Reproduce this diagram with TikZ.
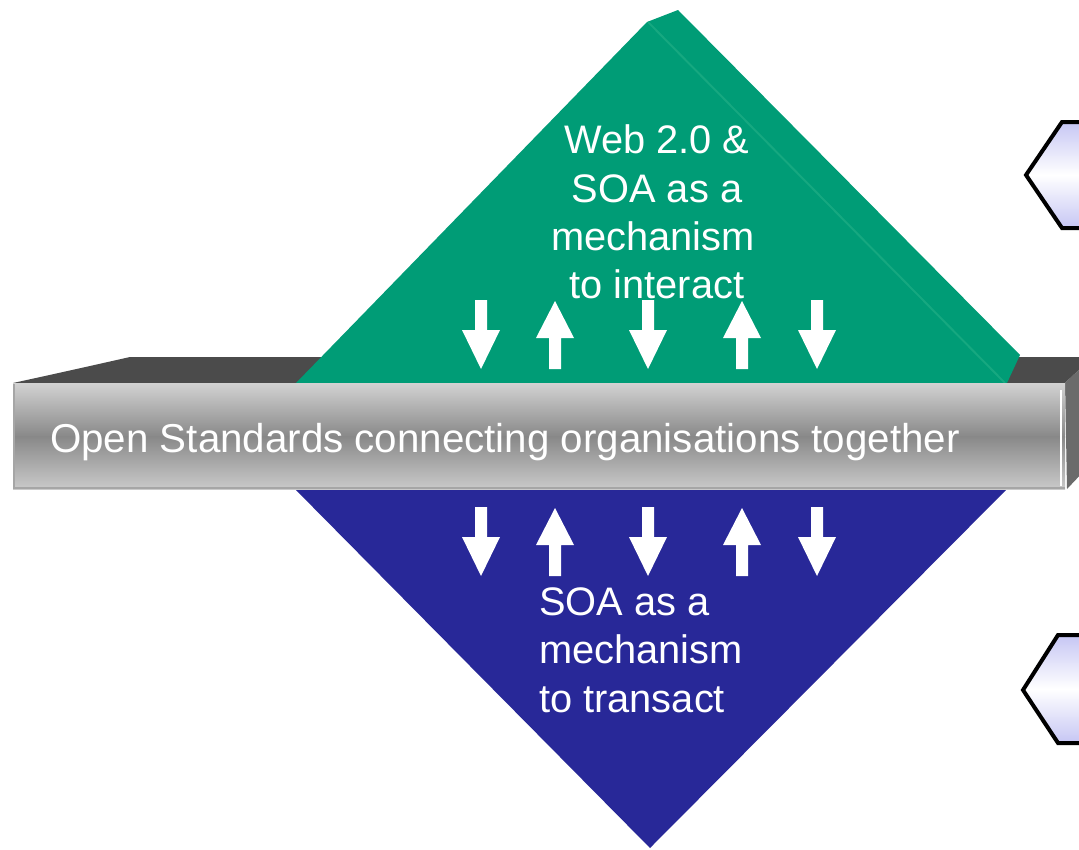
\documentclass[tikz,border=0pt]{standalone}
\usepackage{fontspec}
\setmainfont{Liberation Sans}
\definecolor{dgreen}{HTML}{009C76}
\definecolor{ridge}{HTML}{16A880}
\definecolor{dblue}{HTML}{282898}
\definecolor{topface}{HTML}{4B4B4B}
\definecolor{sideface}{HTML}{6B6B6B}
\definecolor{barlight}{HTML}{D2D2D2}
\definecolor{bardark}{HTML}{888888}
\definecolor{lav}{HTML}{C6C6F4}
\begin{document}
\begin{tikzpicture}[x=1pt,y=-1pt,
  dtxt/.style={text=white, inner sep=0pt, font=\fontsize{39.8}{48}\selectfont},
  btxt/.style={text=white, inner sep=0pt, font=\fontsize{40.3}{48}\selectfont},
  hexbox/.style={draw=black, line width=4pt, line join=miter, top color=lav, bottom color=lav, middle color=white},
  downarrow/.pic={\fill[white] (-6,0) -- (6,0) -- (6,30) -- (19,30) -- (0,69) -- (-19,30) -- (-6,30) -- cycle;},
  uparrow/.pic={\fill[white] (0,0) -- (19,37) -- (6,37) -- (6,68) -- (-6,68) -- (-6,37) -- (-19,37) -- cycle;}]
\useasboundingbox (0,0) rectangle (1079,849);
\clip (0,0) rectangle (1079,849);
% bar top and side faces
\fill[topface] (13,383) -- (45,376) -- (90,366) -- (130,357) -- (1085,357) -- (1085,364) -- (1065,383) -- cycle;
\fill[sideface] (1065,383) -- (1085,364) -- (1085,470) -- (1067,489) -- cycle;
% blue lower half
\fill[dblue] (291,485) -- (650,848) -- (1011,485) -- cycle;
% green upper half
\fill[dgreen] (296,383) -- (647,22) -- (678,10) -- (1020,355) -- (1007,383) -- (1007,400) -- (296,400) -- cycle;
\draw[ridge, line width=2pt] (648,22) -- (1005,383);
% bar front face
\fill[top color=barlight, bottom color=bardark] (13,383) rectangle (1065,437);
\fill[top color=bardark, bottom color=barlight!96!black] (13,436) rectangle (1065,489);
\draw[gray!70, line width=1.5pt] (14,384) -- (14,488) -- (1065,488);
\draw[white, line width=2pt] (1061,390) -- (1061,486);
\node[btxt, anchor=base west] (bar) at (50,452) {Open Standards connecting organisations together};
% arrows upper
\pic at (481,300) {downarrow};
\pic at (555,301) {uparrow};
\pic at (648,300) {downarrow};
\pic at (742,301) {uparrow};
\pic at (817,300) {downarrow};
% arrows lower
\pic at (481,507) {downarrow};
\pic at (555,508) {uparrow};
\pic at (648,507) {downarrow};
\pic at (742,508) {uparrow};
\pic at (817,507) {downarrow};
% texts
\node[dtxt, anchor=base] (t1) at (657,153) {Web 2.0 \&};
\node[dtxt, anchor=base] (t2) at (657,202) {SOA as a};
\node[dtxt, anchor=base] (t3) at (653,250) {mechanism};
\node[dtxt, anchor=base] (t4) at (657,298) {to interact};
\node[dtxt, anchor=base west] (b1) at (539,615) {SOA as a};
\node[dtxt, anchor=base west] (b2) at (539,663) {mechanism};
\node[dtxt, anchor=base west] (b3) at (539,712) {to transact};
% hexagons
\draw[hexbox] (1026,175) -- (1062,122) -- (1120,122) -- (1120,228) -- (1062,228) -- cycle;
\draw[hexbox] (1023,690) -- (1058,635) -- (1120,635) -- (1120,743) -- (1058,743) -- cycle;
\end{tikzpicture}
\end{document}
